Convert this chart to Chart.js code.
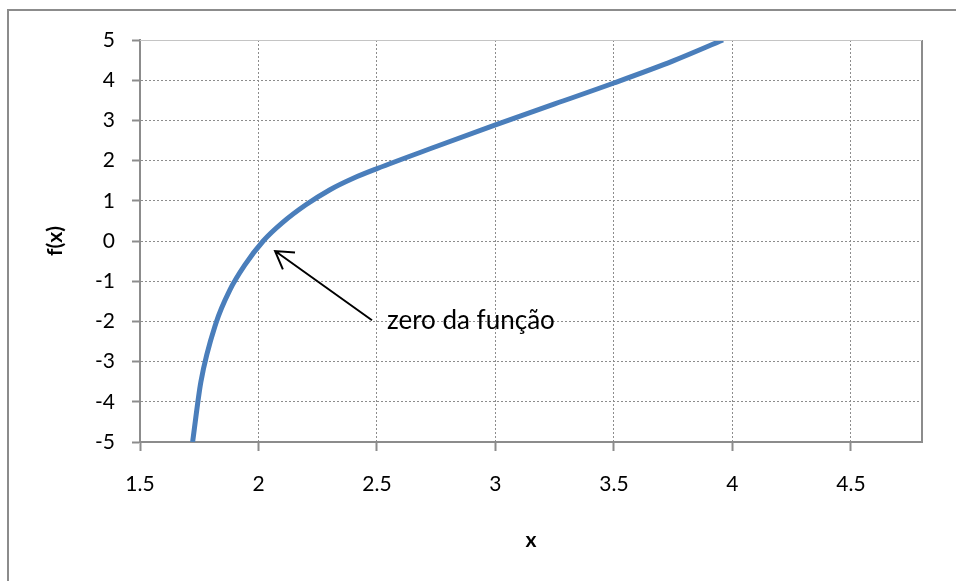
<!DOCTYPE html>
<html>
<head>
<meta charset="utf-8">
<script src="https://cdn.jsdelivr.net/npm/chart.js@4"></script>
<style>
  body { margin: 0; background: #fff; }
  #wrap { width: 956px; height: 581px; }
</style>
</head>
<body>
<div id="wrap"><canvas id="myChart" width="956" height="581"></canvas></div>
<script>
// curve points
var xs = [1.722, 1.757, 1.82, 1.879, 1.942, 2.02, 2.1, 2.2, 2.3, 2.4, 2.5, 2.75, 3, 3.25, 3.5, 3.75, 3.96];
var ys = [-5, -3.5, -2.05, -1.22, -0.6, 0, 0.45, 0.9, 1.27, 1.56, 1.8, 2.35, 2.89, 3.41, 3.93, 4.48, 5];

var xTicks = [1.5, 2, 2.5, 3, 3.5, 4, 4.5];
var yTicks = [-5, -4, -3, -2, -1, 0, 1, 2, 3, 4, 5];

// annotation: arrow tip / tail and label, in data units
var noteText = 'zero da função';
var arrowTip = [2.07, -0.25];
var arrowTail = [2.479, -1.97];
var notePos = [2.542, -2.19];

var points = xs.map(function (x, i) { return { x: x, y: ys[i] }; });

var grey = '#8c8c8c';
var tickFont = { family: 'Lato', size: 21 };
var titleFont = { family: 'Lato', size: 21, weight: 'bold' };

var extras = {
    id: 'extras',
    beforeDraw: function (chart) {
        var c = chart.ctx;
        c.save();
        c.strokeStyle = grey;
        c.lineWidth = 2;
        c.strokeRect(8, 10, 2000, 2000);
        c.restore();
    },
    afterDatasetsDraw: function (chart) {
        var c = chart.ctx, a = chart.chartArea;
        var sx = chart.scales.x, sy = chart.scales.y;
        c.save();
        // right and top frame
        c.strokeStyle = grey;
        c.lineWidth = 2;
        c.beginPath();
        c.moveTo(a.right, a.top);
        c.lineTo(a.right, a.bottom);
        c.stroke();
        c.strokeStyle = '#c4c4c4';
        c.lineWidth = 1;
        c.beginPath();
        c.moveTo(a.left, a.top + 0.5);
        c.lineTo(a.right, a.top + 0.5);
        c.stroke();

        // arrow
        var tx = sx.getPixelForValue(arrowTip[0]), ty = sy.getPixelForValue(arrowTip[1]);
        var bx = sx.getPixelForValue(arrowTail[0]), by = sy.getPixelForValue(arrowTail[1]);
        var ang = Math.atan2(by - ty, bx - tx);
        c.strokeStyle = '#000';
        c.lineWidth = 2;
        c.beginPath();
        c.moveTo(bx, by);
        c.lineTo(tx, ty);
        c.moveTo(tx + 20 * Math.cos(ang - 0.55), ty + 20 * Math.sin(ang - 0.55));
        c.lineTo(tx, ty);
        c.lineTo(tx + 20 * Math.cos(ang + 0.55), ty + 20 * Math.sin(ang + 0.55));
        c.stroke();

        // label
        c.fillStyle = '#000';
        c.font = '26px Lato';
        c.textAlign = 'left';
        c.textBaseline = 'alphabetic';
        c.fillText(noteText, sx.getPixelForValue(notePos[0]), sy.getPixelForValue(notePos[1]));
        c.restore();
    }
};

function fmt(v) { return String(v); }

var ctx = document.getElementById('myChart').getContext('2d');
var myChart = new Chart(ctx, {
    type: 'scatter',
    data: {
        datasets: [{
            data: points,
            showLine: true,
            borderColor: '#4a7ebb',
            backgroundColor: '#4a7ebb',
            borderWidth: 5,
            pointRadius: 0,
            cubicInterpolationMode: 'monotone'
        }]
    },
    options: {
        responsive: false,
        animation: false,
        layout: { padding: { left: 0, top: 40, right: 34, bottom: 0 } },
        plugins: { legend: { display: false }, tooltip: { enabled: false } },
        scales: {
            x: {
                type: 'linear',
                min: 1.5,
                max: 4.8,
                afterBuildTicks: function (scale) {
                    scale.ticks = xTicks.map(function (v) { return { value: v }; });
                },
                afterFit: function (scale) { scale.height = 139; },
                grid: {
                    color: grey,
                    lineWidth: 1,
                    tickColor: grey,
                    tickLength: 9,
                    tickWidth: 2
                },
                border: { display: true, color: grey, width: 2, dash: [2, 2] },
                ticks: { color: '#000', font: tickFont, padding: 21, maxRotation: 0, callback: fmt },
                title: {
                    display: true,
                    text: 'x',
                    color: '#000',
                    font: titleFont,
                    padding: { top: 0, bottom: 28 }
                }
            },
            y: {
                type: 'linear',
                min: -5,
                max: 5,
                afterBuildTicks: function (scale) {
                    scale.ticks = yTicks.map(function (v) { return { value: v }; });
                },
                afterFit: function (scale) { scale.width = 140; },
                grid: {
                    color: grey,
                    lineWidth: 1,
                    tickColor: grey,
                    tickLength: 8,
                    tickWidth: 2
                },
                border: { display: true, color: grey, width: 2, dash: [2, 2] },
                ticks: { color: '#000', font: tickFont, padding: 17, callback: fmt },
                title: {
                    display: true,
                    text: 'f(x)',
                    color: '#000',
                    font: titleFont,
                    padding: { top: 43, bottom: 0 }
                }
            }
        }
    },
    plugins: [extras]
});
</script>
</body>
</html>
